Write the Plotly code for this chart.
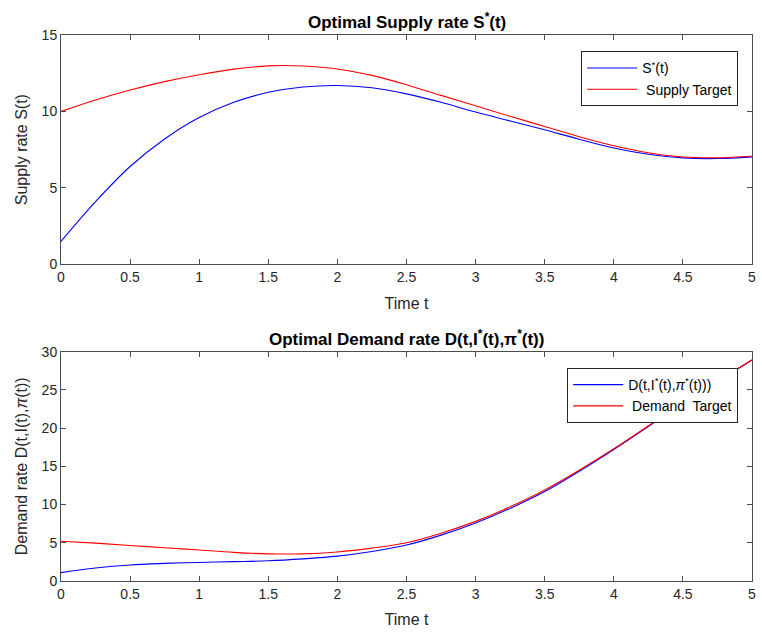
import plotly.graph_objects as go
from plotly.subplots import make_subplots

t = [0, 0.25, 0.5, 0.75, 1, 1.25, 1.5, 1.75, 2, 2.25, 2.5, 2.75, 3, 3.25, 3.5, 3.75, 4, 4.25, 4.5, 4.75, 5]

supply_opt = [1.5, 4.1, 6.4, 8.2, 9.6, 10.6, 11.25, 11.6, 11.7, 11.55, 11.15, 10.6, 9.96, 9.38, 8.8, 8.18, 7.61, 7.2, 6.96, 6.92, 7.03]
supply_target = [10.0, 10.75, 11.4, 11.95, 12.4, 12.77, 12.98, 12.97, 12.78, 12.36, 11.75, 11.05, 10.37, 9.68, 9.02, 8.35, 7.76, 7.3, 7.02, 6.97, 7.07]

demand_opt = [1.1, 1.7, 2.1, 2.3, 2.43, 2.53, 2.65, 2.9, 3.25, 3.85, 4.7, 6.0, 7.6, 9.5, 11.7, 14.35, 17.2, 20.2, 23.3, 26.1, 28.9]
demand_target = [5.2, 4.95, 4.65, 4.35, 4.05, 3.75, 3.55, 3.55, 3.8, 4.3, 5.0, 6.25, 7.8, 9.7, 11.9, 14.5, 17.3, 20.3, 23.4, 26.2, 28.9]

x_ticks = [0, 0.5, 1, 1.5, 2, 2.5, 3, 3.5, 4, 4.5, 5]
x_ticklabels = ["0", "0.5", "1", "1.5", "2", "2.5", "3", "3.5", "4", "4.5", "5"]
y1_ticks = [0, 5, 10, 15]
y2_ticks = [0, 5, 10, 15, 20, 25, 30]

FONT = "Liberation Sans, Arial, Helvetica, sans-serif"
AX = "#4d4d4d"
TXT = "#262626"

fig = make_subplots(rows=2, cols=1, vertical_spacing=0.16)

fig.add_trace(go.Scatter(x=t, y=supply_opt, mode="lines", line=dict(color="#0000ff", width=1.1, shape="spline"),
                         name="S<sup>*</sup>(t)", legend="legend"), row=1, col=1)
fig.add_trace(go.Scatter(x=t, y=supply_target, mode="lines", line=dict(color="#ff0000", width=1.1, shape="spline"),
                         name=" Supply Target", legend="legend"), row=1, col=1)
fig.add_trace(go.Scatter(x=t, y=demand_opt, mode="lines", line=dict(color="#0000ff", width=1.1, shape="spline"),
                         name="D(t,I<sup>*</sup>(t),<i>π</i><sup>*</sup>(t)))", legend="legend2"), row=2, col=1)
fig.add_trace(go.Scatter(x=t, y=demand_target, mode="lines", line=dict(color="#ff0000", width=1.1, shape="spline"),
                         name=" Demand  Target", legend="legend2"), row=2, col=1)

axis_common = dict(showline=True, mirror="ticks", linecolor=AX, linewidth=1, ticks="inside", ticklen=5,
                   tickcolor=AX, showgrid=False, zeroline=False,
                   tickfont=dict(family=FONT, size=14, color=TXT))

label_font = dict(family=FONT, size=16, color=TXT)

fig.update_xaxes(range=[0, 5], tickvals=x_ticks, ticktext=x_ticklabels, **axis_common)
fig.update_xaxes(title=dict(text="Time t", font=label_font, standoff=13), row=1, col=1)
fig.update_xaxes(title=dict(text="Time t", font=label_font, standoff=13), row=2, col=1)
fig.update_yaxes(**axis_common)
fig.update_yaxes(range=[0, 15], tickvals=y1_ticks,
                 title=dict(text="Supply rate S(t)", font=label_font, standoff=10),
                 row=1, col=1)
fig.update_yaxes(range=[0, 30], tickvals=y2_ticks,
                 title=dict(text="Demand rate D(t,I(t),<i>π</i>(t))", font=label_font, standoff=10),
                 row=2, col=1)

fig.update_layout(
    width=762, height=632,
    margin=dict(l=61, r=6, t=35, b=47),
    paper_bgcolor="white", plot_bgcolor="white",
    font=dict(family=FONT, color=TXT),
    legend=dict(x=0.98, y=0.97, xanchor="right", yanchor="top", bgcolor="white",
                bordercolor="#262626", borderwidth=1, font=dict(family=FONT, size=14, color="#000"),
                tracegroupgap=0, itemwidth=50),
    legend2=dict(x=0.98, y=0.39, xanchor="right", yanchor="top", bgcolor="white",
                 bordercolor="#262626", borderwidth=1, font=dict(family=FONT, size=14, color="#000"),
                 tracegroupgap=0, itemwidth=50),
    annotations=[
        dict(text="<b>Optimal Supply rate S<sup>*</sup>(t)</b>", x=0.5, y=1.0, xref="paper", yref="paper",
             xanchor="center", yanchor="bottom", yshift=1, showarrow=False,
             font=dict(family=FONT, size=17, color="#000")),
        dict(text="<b>Optimal Demand rate D(t,I<sup>*</sup>(t),π<sup>*</sup>(t))</b>", x=0.5, y=0.42, xref="paper", yref="paper",
             xanchor="center", yanchor="bottom", yshift=1, showarrow=False,
             font=dict(family=FONT, size=17, color="#000")),
    ],
)

fig.write_html("out.html")
